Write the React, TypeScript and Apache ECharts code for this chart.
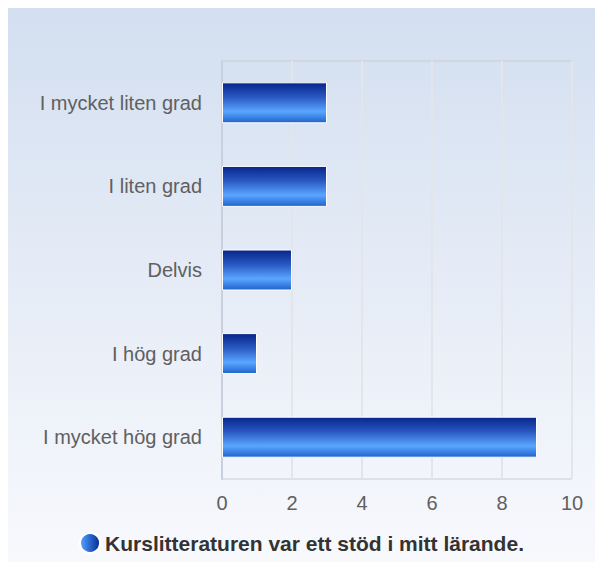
import React, { useEffect, useRef } from "react";
import * as echarts from "echarts";

const categories = ["I mycket liten grad", "I liten grad", "Delvis", "I hög grad", "I mycket hög grad"];
const values = [3, 3, 2, 1, 9];
const seriesName = "Kurslitteraturen var ett stöd i mitt lärande.";
const xTicks = [0, 2, 4, 6, 8, 10];

export default function App() {
  const ref = useRef<HTMLDivElement>(null);
  useEffect(() => {
    const chart = echarts.init(ref.current!, null, { renderer: "svg" });
    const barGrad = new echarts.graphic.LinearGradient(0, 0, 0, 1, [
      { offset: 0, color: "#06268a" },
      { offset: 0.35, color: "#2856c0" },
      { offset: 0.72, color: "#5aa6ff" },
      { offset: 1, color: "#1f62cc" },
    ]);
    const legendGrad = new echarts.graphic.LinearGradient(0, 0, 1, 0, [
      { offset: 0, color: "#5aa6ff" },
      { offset: 0.5, color: "#2a66d0" },
      { offset: 1, color: "#0a2a8a" },
    ]);
    chart.setOption({
      animation: false,
      backgroundColor: new echarts.graphic.LinearGradient(0, 0, 0, 1, [
        { offset: 0, color: "#d3dff0" },
        { offset: 1, color: "#f8f9fd" },
      ]),
      textStyle: { fontFamily: "Liberation Sans, Arial, sans-serif" },
      grid: {
        left: 214,
        right: 23,
        top: 53,
        bottom: 83,
        show: true,
        borderColor: "#cccccc",
        borderWidth: 1,
        backgroundColor: "transparent",
      },
      legend: {
        bottom: 3,
        left: "center",
        icon: "circle",
        itemWidth: 20,
        itemHeight: 20,
        itemGap: 6,
        textStyle: { fontSize: 21, fontWeight: "bold", color: "#333333" },
        data: [{ name: seriesName, itemStyle: { color: legendGrad } }],
      },
      xAxis: {
        type: "value",
        min: 0,
        max: xTicks[xTicks.length - 1],
        interval: 2,
        axisLine: { show: false },
        axisTick: { show: false },
        axisLabel: { fontSize: 20, color: "#606060", margin: 14 },
        splitLine: { show: true, lineStyle: { color: "#e2e5ea", width: 2 } },
      },
      yAxis: {
        type: "category",
        data: categories,
        inverse: true,
        axisLine: { show: true, lineStyle: { color: "#c8d0e0", width: 2 } },
        axisTick: { show: false },
        axisLabel: { fontSize: 20, color: "#606060", margin: 20 },
        splitLine: { show: false },
      },
      series: [
        {
          name: seriesName,
          type: "bar",
          data: values,
          barCategoryGap: "51%",
          itemStyle: { color: barGrad, borderColor: "#ffffff", borderWidth: 1 },
        },
      ],
    });
    return () => chart.dispose();
  }, []);
  return (
    <div
      ref={ref}
      style={{ position: "fixed", left: 8, top: 8, width: 587, height: 554 }}
    />
  );
}
